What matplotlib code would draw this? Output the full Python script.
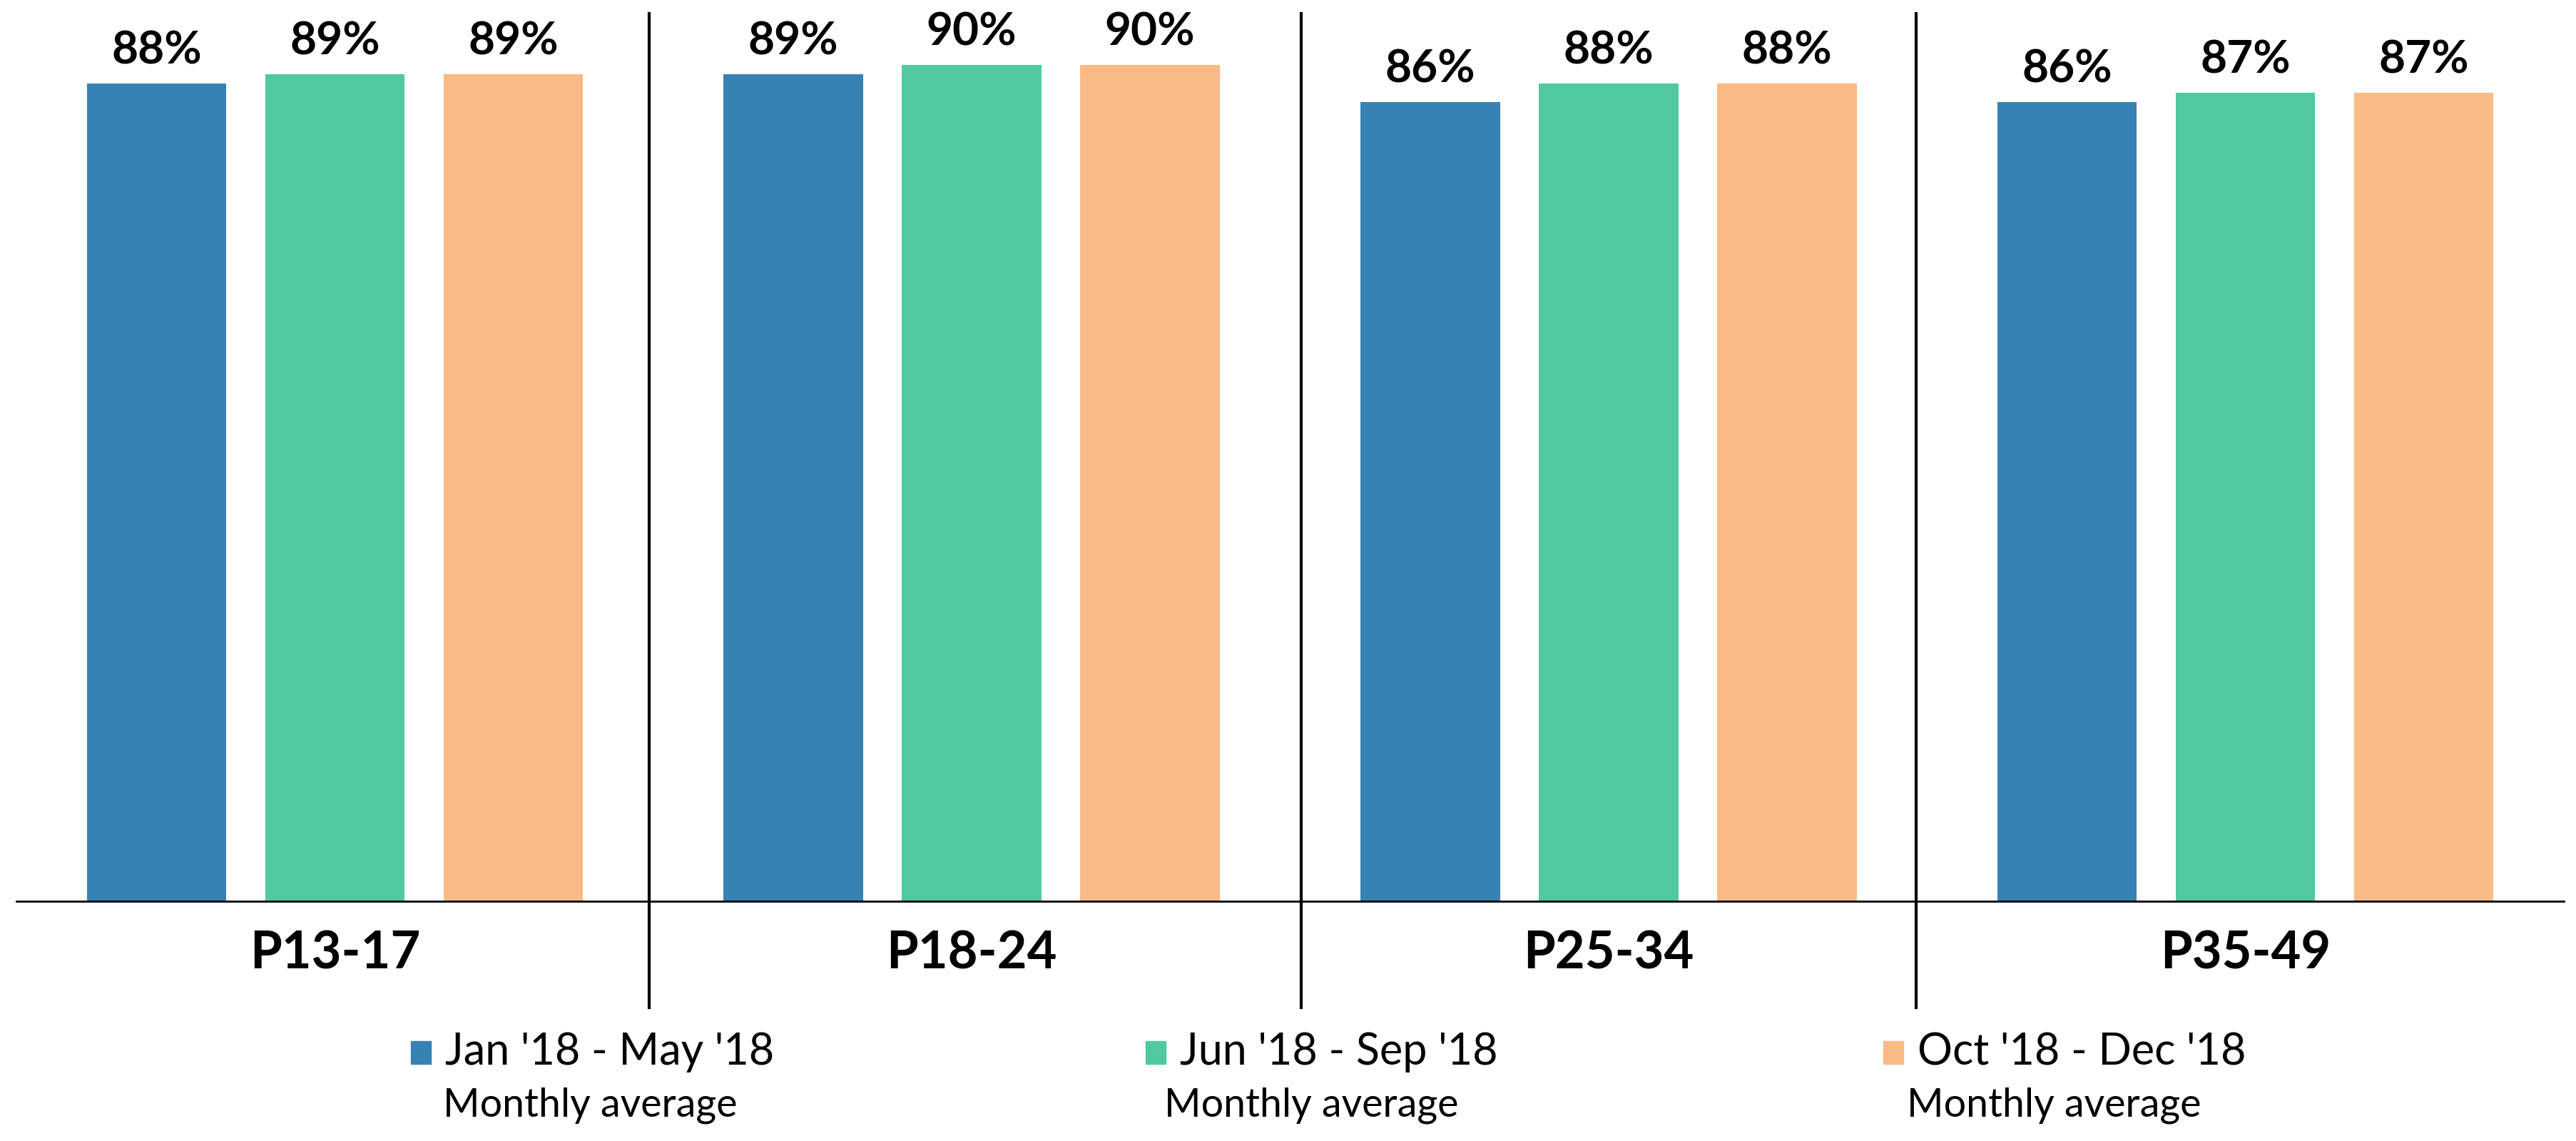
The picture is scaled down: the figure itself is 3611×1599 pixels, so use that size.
import matplotlib.pyplot as plt
from matplotlib.patches import Rectangle
import numpy as np

# data
categories = ['P13-17', 'P18-24', 'P25-34', 'P35-49']
series_names = ["Jan '18 - May '18", "Jun '18 - Sep '18", "Oct '18 - Dec '18"]
series_sub = ['Monthly average', 'Monthly average', 'Monthly average']
jan_may = [88, 89, 86, 86]
jun_sep = [89, 90, 88, 87]
oct_dec = [89, 90, 88, 87]
COLORS = ['#3782b4', '#50c9a0', '#f9ba85']

plt.rcParams['font.family'] = ['Lato', 'DejaVu Sans']

fig = plt.figure(figsize=(36.12, 15.99), dpi=100)
ax = fig.add_axes([0.0064, 0.2104, 0.9886, 0.778])

x = np.arange(len(categories))
pitch = 0.28
width = 0.219
all_series = [jan_may, jun_sep, oct_dec]

for i, vals in enumerate(all_series):
    pos = x + (i - 1) * pitch
    ax.bar(pos, vals, width=width, color=COLORS[i], zorder=2)
    for px, v in zip(pos, vals):
        ax.annotate(f'{v}%', (px, v), xytext=(0, 20), textcoords='offset points',
                    ha='center', va='baseline', fontsize=46, fontweight='bold')

ax.set_xlim(-0.5, 3.5)
ax.set_ylim(0, 95.6)

for s in ['top', 'right', 'left']:
    ax.spines[s].set_visible(False)
ax.spines['bottom'].set_linewidth(2)
ax.set_xticks([])
ax.set_yticks([])

# group separators
trans = ax.get_xaxis_transform()
for sx in [0.494, 1.517, 2.483]:
    ax.plot([sx, sx], [-0.12, 1.0], transform=trans, color='black', lw=3, clip_on=False)

for xi, cat in zip(x, categories):
    ax.text(xi, -0.06, cat, transform=trans, ha='center', va='center',
            fontsize=52, fontweight='bold')

# legend below the chart
leg_x = [0.1595, 0.4445, 0.7309]
sub_x = [0.229, 0.509, 0.797]
for i in range(3):
    fig.patches.append(Rectangle((leg_x[i], 0.0675), 0.0078, 0.0202, transform=fig.transFigure,
                                 color=COLORS[i]))
    fig.text(leg_x[i] + 0.0133, 0.0778, series_names[i], ha='left', va='center', fontsize=44)
    fig.text(sub_x[i], 0.031, series_sub[i], ha='center', va='center', fontsize=40)

plt.savefig('out.png', dpi=100)
plt.close()
